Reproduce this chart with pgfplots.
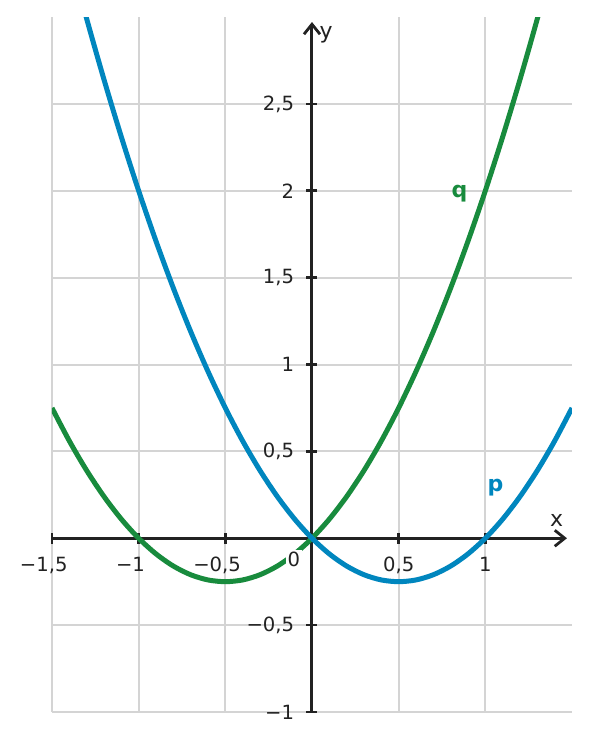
\documentclass[border=0pt]{standalone}
\usepackage{fontspec}
\setmainfont{DejaVu Sans}
\usepackage{pgfplots}
\pgfplotsset{compat=1.18}
\usetikzlibrary{arrows.meta}
\definecolor{pblue}{HTML}{0086BE}
\definecolor{qgreen}{HTML}{188B3D}
\definecolor{gridgray}{HTML}{D4D4D4}
\definecolor{axdark}{HTML}{222222}
\begin{document}
\begin{tikzpicture}
\useasboundingbox (-26pt,-14.5pt) rectangle (269pt,356pt);
\begin{axis}[
  at={(0,0)}, anchor=south west,
  scale only axis, width=260pt, height=347.5pt,
  xmin=-1.5, xmax=1.5, ymin=-1, ymax=3,
  axis lines=middle,
  axis line style={axdark, line width=1.5pt, shorten >=2.5pt, -{Straight Barb[length=5pt,width=8pt,line width=1.4pt]}},
  grid=major,
  major grid style={gridgray, line width=1pt},
  tick style={axdark, line width=1.3pt},
  tick align=center,
  major tick length=5.5pt,
  tick label style={font=\fontsize{9.8}{11}\selectfont, text=axdark},
  xtick={-1.5,-1,-0.5,0.5,1},
  xticklabels={{\llap{−}1,5},{\llap{−}1},{\llap{−}0,5},{0,5},{1}},
  ytick={-1,-0.5,0.5,1,1.5,2,2.5},
  yticklabels={{−1},{−0,5},{0,5},{1},{1,5},{2},{2,5}},
  xticklabel style={anchor=north, inner sep=0pt, yshift=-6.5pt},
  yticklabel style={anchor=east, inner sep=0pt, xshift=-6pt},
]
\addplot[qgreen, line width=2.5pt, smooth] coordinates {
(-1.5,0.75) (-1.4,0.56) (-1.3,0.39) (-1.2,0.24) (-1.1,0.11) (-1.0,0)
(-0.9,-0.09) (-0.8,-0.16) (-0.7,-0.21) (-0.6,-0.24) (-0.5,-0.25)
(-0.4,-0.24) (-0.3,-0.21) (-0.2,-0.16) (-0.1,-0.09) (0,0)
(0.1,0.11) (0.2,0.24) (0.3,0.39) (0.4,0.56) (0.5,0.75)
(0.6,0.96) (0.7,1.19) (0.8,1.44) (0.9,1.71) (1.0,2)
(1.1,2.31) (1.2,2.64) (1.3,2.99) (1.4,3.36) (1.5,3.75)};
\addplot[pblue, line width=2.5pt, smooth] coordinates {
(-1.5,3.75) (-1.4,3.36) (-1.3,2.99) (-1.2,2.64) (-1.1,2.31) (-1.0,2)
(-0.9,1.71) (-0.8,1.44) (-0.7,1.19) (-0.6,0.96) (-0.5,0.75)
(-0.4,0.56) (-0.3,0.39) (-0.2,0.24) (-0.1,0.11) (0,0)
(0.1,-0.09) (0.2,-0.16) (0.3,-0.21) (0.4,-0.24) (0.5,-0.25)
(0.6,-0.24) (0.7,-0.21) (0.8,-0.16) (0.9,-0.09) (1.0,0)
(1.1,0.11) (1.2,0.24) (1.3,0.39) (1.4,0.56) (1.5,0.75)};
\node[anchor=north, fill=white, inner sep=1pt, yshift=-5.5pt, text=axdark, font=\fontsize{9.8}{11}\selectfont] at (axis cs:-0.104,0) {0};
\node[text=qgreen, font=\fontsize{11}{13}\selectfont\bfseries] at (axis cs:0.851,1.986) {q};
\node[text=pblue, font=\fontsize{11}{13}\selectfont\bfseries] at (axis cs:1.059,0.291) {p};
\node[text=axdark, font=\fontsize{11}{13}\selectfont] at (axis cs:1.411,0.104) {x};
\node[text=axdark, font=\fontsize{11}{13}\selectfont] at (axis cs:0.081,2.896) {y};
\end{axis}
\end{tikzpicture}
\end{document}
